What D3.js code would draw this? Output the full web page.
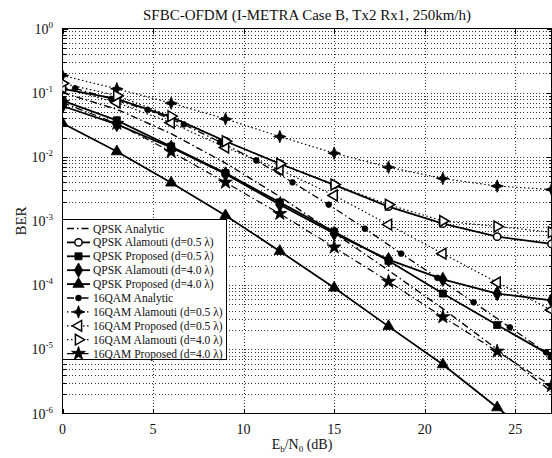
<!DOCTYPE html>
<html>
<head>
<meta charset="utf-8">
<script src="https://cdn.jsdelivr.net/npm/d3@7"></script>
<style>
  body { margin: 0; background: #fff; }
  svg { display: block; }
</style>
</head>
<body>
<svg id="chart" width="552" height="458"></svg>
<script>
// Eb/N0 points (dB)
const snr = [0, 3, 6, 9, 12, 15, 18, 21, 24, 27];
const snrAnalytic16 = [0.7, 2.7, 4.7, 6.7, 8.7, 10.7, 12.7, 14.7, 16.7, 18.7, 20.7, 22.7, 24.7, 26.7];

// BER
const qpskAnalytic    = [0.1, 0.055, 0.023, 8e-3, 2.4e-3, 6.5e-4, 1.7e-4, 4.3e-5, 1.0e-5, 2.2e-6];
const qpskAlamouti05  = [0.115, 0.080, 0.0415, 0.0175, 7.8e-3, 3.66e-3, 1.68e-3, 9.1e-4, 5.7e-4, 4.4e-4];
const qpskProposed05  = [0.075, 0.037, 0.0145, 5.6e-3, 1.95e-3, 6.8e-4, 2.4e-4, 7.4e-5, 2.4e-5, 7.9e-6];
const qpskAlamouti40  = [0.062, 0.032, 0.014, 5.4e-3, 1.8e-3, 6.4e-4, 2.5e-4, 1.23e-4, 7.4e-5, 5.8e-5];
const qpskProposed40  = [0.0334, 0.0121, 3.94e-3, 1.22e-3, 3.39e-4, 9.1e-5, 2.28e-5, 5.8e-6, 1.24e-6, 2.6e-7];
const qam16Analytic   = [0.117, 0.080, 0.054, 0.032, 0.017, 8.8e-3, 4.0e-3, 1.8e-3, 7.6e-4, 3.1e-4, 1.3e-4, 5.4e-5, 2.2e-5, 9e-6];
const qam16Alamouti05 = [0.185, 0.115, 0.0686, 0.039, 0.0207, 0.0114, 6.9e-3, 4.6e-3, 3.5e-3, 3.1e-3];
const qam16Proposed05 = [0.12, 0.07, 0.034, 0.014, 6.3e-3, 2.5e-3, 8.8e-4, 3.1e-4, 1.1e-4, 4.1e-5];
const qam16Alamouti40 = [0.14, 0.09, 0.043, 0.0175, 7.8e-3, 3.7e-3, 1.8e-3, 1.0e-3, 8.2e-4, 6.7e-4];
const qam16Proposed40 = [0.07, 0.033, 0.012, 4.0e-3, 1.3e-3, 3.9e-4, 1.14e-4, 3.2e-5, 9.3e-6, 2.7e-6];

const xTicks = [0, 5, 10, 15, 20, 25];
const yDecades = [0, -1, -2, -3, -4, -5, -6];

const FONT = "'Liberation Serif', 'DejaVu Serif', serif";
const LEFT = 62.5, RIGHT = 551.5, TOP = 28.5, BOTTOM = 413.5;

// four point "plus" star used by 16QAM Alamouti (d=0.5)
const symbolPlus4 = {
  draw(ctx, size) {
    const r = Math.sqrt(size) * 0.75, w = r * 0.28;
    ctx.moveTo(0, -r); ctx.lineTo(w, -w); ctx.lineTo(r, 0); ctx.lineTo(w, w);
    ctx.lineTo(0, r); ctx.lineTo(-w, w); ctx.lineTo(-r, 0); ctx.lineTo(-w, -w);
    ctx.closePath();
  }
};

const DASHDOT = "7,3,1.5,3";
const DOTTED = "1.5,2.5";

const series = [
  { name: "QPSK Analytic", x: snr, y: qpskAnalytic, dash: DASHDOT, sw: 1.4, sym: null },
  { name: "QPSK Alamouti (d=0.5 \u03bb)", x: snr, y: qpskAlamouti05, dash: null, sw: 1.8, sym: d3.symbolCircle, size: 42, open: true },
  { name: "QPSK Proposed (d=0.5 \u03bb)", x: snr, y: qpskProposed05, dash: null, sw: 1.8, sym: d3.symbolSquare, size: 50 },
  { name: "QPSK Alamouti (d=4.0 \u03bb)", x: snr, y: qpskAlamouti40, dash: null, sw: 1.8, sym: d3.symbolDiamond, size: 60 },
  { name: "QPSK Proposed (d=4.0 \u03bb)", x: snr, y: qpskProposed40, dash: null, sw: 1.8, sym: d3.symbolTriangle, size: 55 },
  { name: "16QAM Analytic", x: snrAnalytic16, y: qam16Analytic, dash: DASHDOT, sw: 1.3, sym: d3.symbolCircle, size: 26 },
  { name: "16QAM Alamouti (d=0.5 \u03bb)", x: snr, y: qam16Alamouti05, dash: DOTTED, sw: 1.2, sym: symbolPlus4, size: 70 },
  { name: "16QAM Proposed (d=0.5 \u03bb)", x: snr, y: qam16Proposed05, dash: DOTTED, sw: 1.2, sym: d3.symbolTriangle, size: 50, open: true, rot: -90 },
  { name: "16QAM Alamouti (d=4.0 \u03bb)", x: snr, y: qam16Alamouti40, dash: DOTTED, sw: 1.2, sym: d3.symbolTriangle, size: 50, open: true, rot: 90 },
  { name: "16QAM Proposed (d=4.0 \u03bb)", x: snr, y: qam16Proposed40, dash: DASHDOT, sw: 1.2, sym: d3.symbolStar, size: 60 }
];

const svg = d3.select("#chart");
const x = d3.scaleLinear().domain([0, 27]).range([LEFT, RIGHT]);
const y = d3.scaleLog().domain([1e-6, 1]).range([BOTTOM, TOP]);

svg.append("defs").append("clipPath").attr("id", "plotclip")
   .append("rect").attr("x", LEFT).attr("y", TOP)
   .attr("width", RIGHT - LEFT).attr("height", BOTTOM - TOP);

// Grid
const grid = svg.append("g").attr("stroke", "#333").attr("stroke-width", 1)
                .attr("stroke-dasharray", "1,2.2").attr("shape-rendering", "crispEdges");
xTicks.filter(t => t > 0).forEach(t => {
  grid.append("line").attr("x1", Math.round(x(t)) + 0.5).attr("x2", Math.round(x(t)) + 0.5)
      .attr("y1", TOP).attr("y2", BOTTOM);
});
const minorVals = [];
for (let e = -6; e < 0; e++) for (let m = 1; m <= 9; m++) {
  const v = m * Math.pow(10, e);
  if (v > 1e-6) minorVals.push(v);
}
minorVals.forEach(v => {
  const yy = Math.round(y(v)) + 0.5;
  grid.append("line").attr("x1", LEFT).attr("x2", RIGHT).attr("y1", yy).attr("y2", yy);
});

// Axes (box + ticks inward)
const axes = svg.append("g").attr("stroke", "#000").attr("shape-rendering", "crispEdges");
axes.append("rect").attr("x", LEFT).attr("y", TOP).attr("width", RIGHT - LEFT).attr("height", BOTTOM - TOP)
    .attr("fill", "none").attr("stroke-width", 1.2);
xTicks.forEach(t => {
  const xx = Math.round(x(t)) + 0.5;
  axes.append("line").attr("x1", xx).attr("x2", xx).attr("y1", BOTTOM).attr("y2", BOTTOM - 5);
  axes.append("line").attr("x1", xx).attr("x2", xx).attr("y1", TOP).attr("y2", TOP + 5);
});
minorVals.concat([1]).forEach(v => {
  const yy = Math.round(y(v)) + 0.5;
  const major = Math.abs(Math.log10(v) - Math.round(Math.log10(v))) < 1e-9;
  const len = major ? 5 : 3;
  axes.append("line").attr("x1", LEFT).attr("x2", LEFT + len).attr("y1", yy).attr("y2", yy);
  axes.append("line").attr("x1", RIGHT).attr("x2", RIGHT - len).attr("y1", yy).attr("y2", yy);
});

// Tick labels
const xl = svg.append("g").attr("font-family", FONT).attr("font-size", 14).attr("fill", "#111");
xTicks.forEach(t => {
  xl.append("text").attr("x", x(t)).attr("y", BOTTOM + 20).attr("text-anchor", "middle").text(t);
});
yDecades.forEach(e => {
  const t = xl.append("text").attr("x", 53).attr("y", y(Math.pow(10, e)) + 5).attr("text-anchor", "end");
  t.append("tspan").text("10");
  t.append("tspan").attr("font-size", 9).attr("dy", -6).text(e);
});

// Titles
svg.append("text").attr("x", (LEFT + RIGHT) / 2).attr("y", 20).attr("text-anchor", "middle")
   .attr("font-family", FONT).attr("font-size", 15).attr("fill", "#111")
   .text("SFBC-OFDM (I-METRA Case B, Tx2 Rx1, 250km/h)");
const xlab = svg.append("text").attr("x", 302).attr("y", 449).attr("text-anchor", "middle")
   .attr("font-family", FONT).attr("font-size", 14).attr("fill", "#111");
xlab.append("tspan").text("E");
xlab.append("tspan").attr("font-size", 9).attr("dy", 3).text("b");
xlab.append("tspan").attr("dy", -3).text("/N");
xlab.append("tspan").attr("font-size", 9).attr("dy", 3).text("0");
xlab.append("tspan").attr("dy", -3).text(" (dB)");
svg.append("text").attr("transform", "translate(26,221) rotate(-90)").attr("text-anchor", "middle")
   .attr("font-family", FONT).attr("font-size", 15).attr("fill", "#111").text("BER");

// Series
function drawMarker(g, s, px, py) {
  if (!s.sym) return;
  g.append("path")
   .attr("d", d3.symbol().type(s.sym).size(s.size)())
   .attr("transform", "translate(" + px + "," + py + ")" + (s.rot ? " rotate(" + s.rot + ")" : ""))
   .attr("fill", s.open ? "#fff" : "#000")
   .attr("stroke", "#000").attr("stroke-width", s.open ? 1.5 : 0.8);
}

const plot = svg.append("g").attr("clip-path", "url(#plotclip)");
const line = d3.line().x(d => x(d[0])).y(d => y(d[1]));
series.forEach(s => {
  const pts = s.x.map((v, i) => [v, s.y[i]]);
  plot.append("path").datum(pts).attr("d", line).attr("fill", "none")
      .attr("stroke", "#000").attr("stroke-width", s.sw)
      .attr("stroke-dasharray", s.dash);
});
series.forEach(s => {
  s.x.forEach((v, i) => drawMarker(plot, s, x(v), y(s.y[i])));
});

// Legend
const LX = 62.5, LY = 219.5, LW = 164, LH = 140, ROW = 13.9;
const legend = svg.append("g");
legend.append("rect").attr("x", LX).attr("y", LY).attr("width", LW).attr("height", LH)
      .attr("fill", "#fff").attr("stroke", "#000").attr("stroke-width", 1).attr("shape-rendering", "crispEdges");
series.forEach((s, i) => {
  const yy = LY + 9 + i * ROW;
  legend.append("line").attr("x1", 67).attr("x2", 90).attr("y1", yy).attr("y2", yy)
        .attr("stroke", "#000").attr("stroke-width", s.sw).attr("stroke-dasharray", s.dash);
  drawMarker(legend, s, 78.5, yy);
  legend.append("text").attr("x", 93).attr("y", yy + 4).attr("font-family", FONT)
        .attr("font-size", 11.5).attr("fill", "#111").text(s.name);
});
</script>
</body>
</html>
